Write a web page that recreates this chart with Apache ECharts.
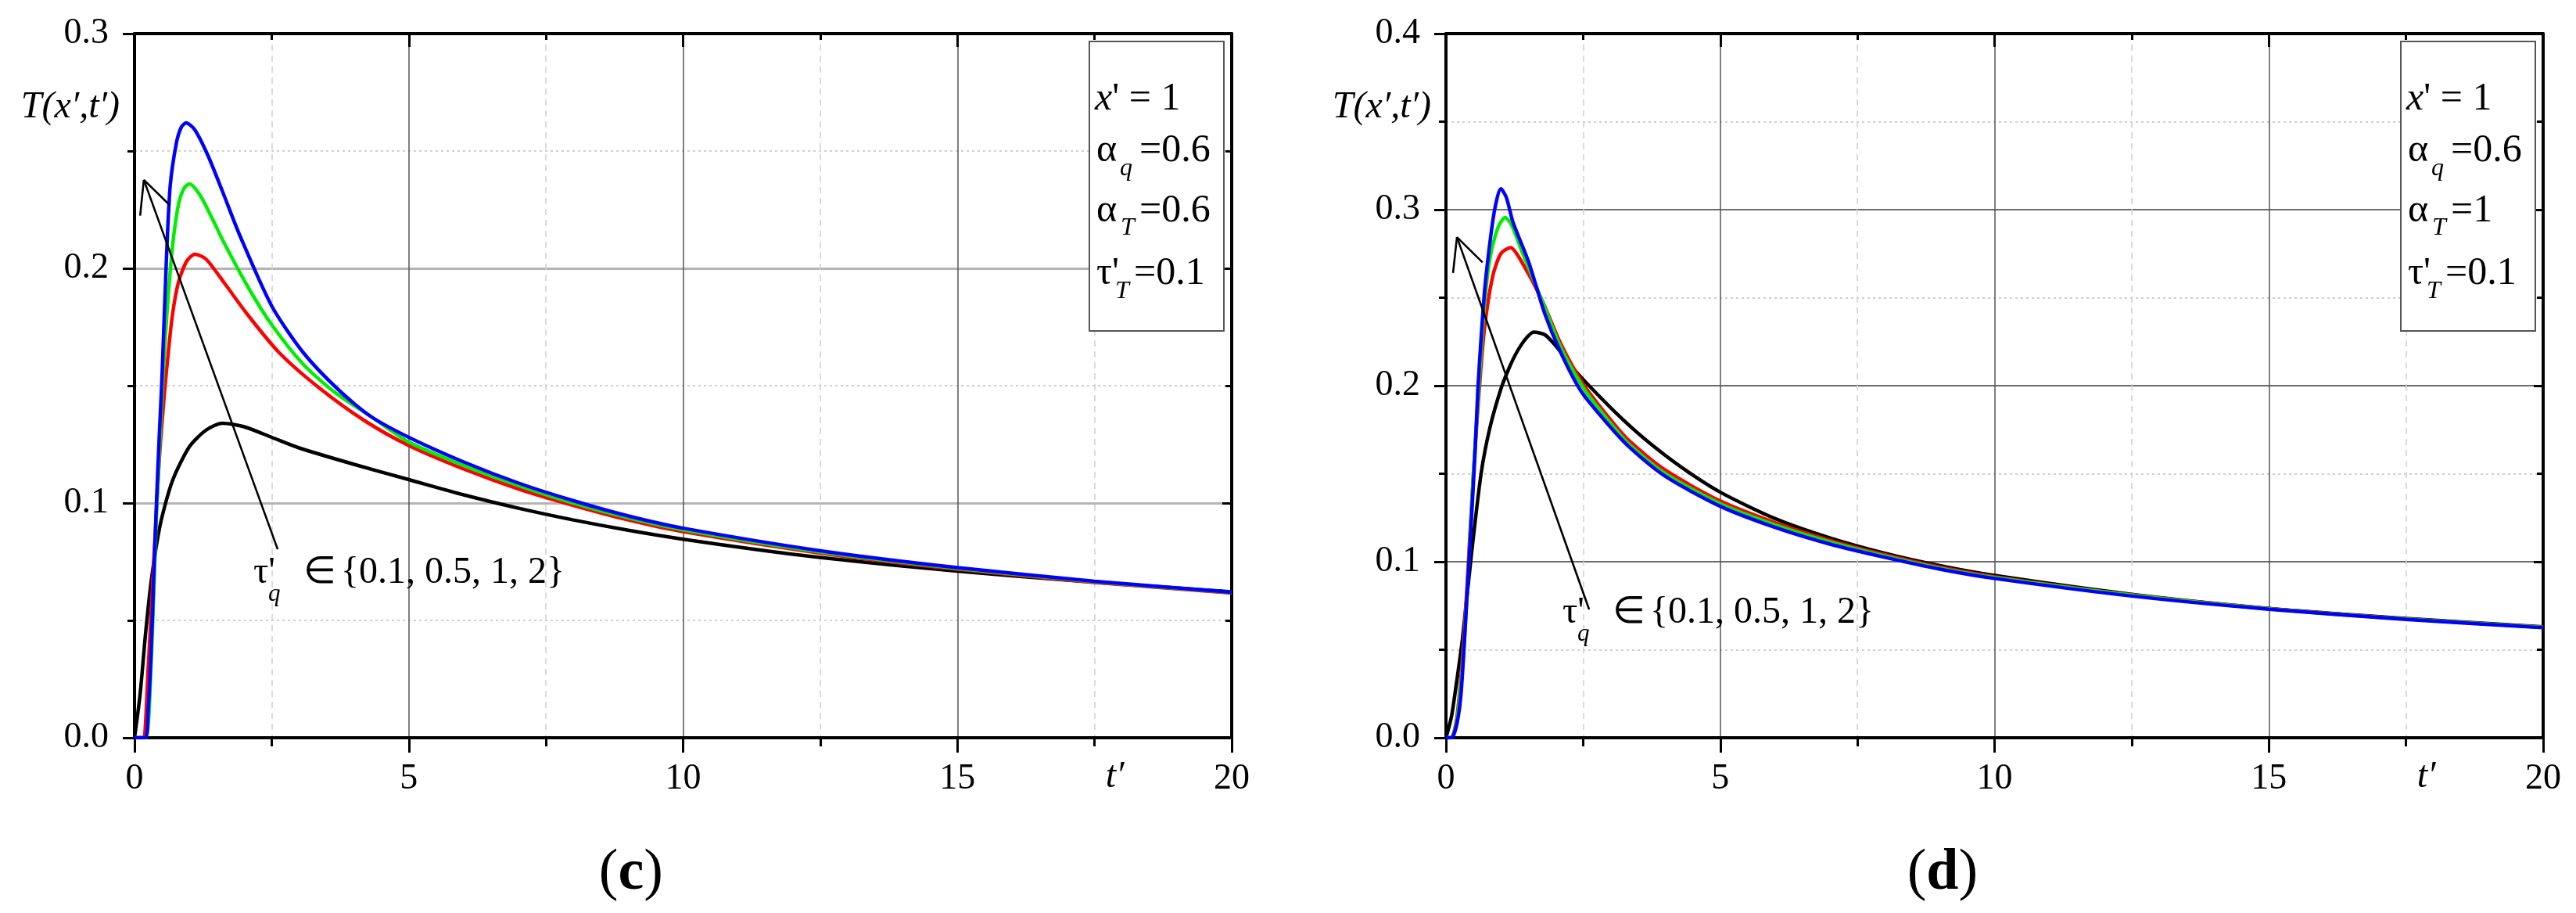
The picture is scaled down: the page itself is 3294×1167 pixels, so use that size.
<!DOCTYPE html>
<html>
<head>
<meta charset="utf-8">
<title>T(x',t') — panels (c) and (d)</title>
<script src="https://cdn.jsdelivr.net/npm/echarts@6/dist/echarts.min.js"></script>
<style>
html, body { margin: 0; padding: 0; background: #fff; }
#main { width: 3294px; height: 1167px; }
</style>
</head>
<body>
<div id="main"></div>
<script>
// ---- data: [t', T] pairs ----
// panel (c): x' = 1, alpha_q = 0.6, alpha_T = 0.6, tau'_T = 0.1
const cBlack = [[0, 0], [0.1, 0.018], [0.2, 0.044], [0.3, 0.066], [0.4, 0.082], [0.5, 0.094], [0.7, 0.11], [1.0, 0.124], [1.3, 0.131], [1.6, 0.134], [2.0, 0.1325], [2.5, 0.128], [3, 0.1235], [4, 0.1165], [5, 0.11], [6, 0.1035], [7, 0.0978], [8, 0.0928], [9, 0.0884], [10, 0.0846], [12, 0.0782], [14, 0.0732], [16, 0.069], [18, 0.0654], [20, 0.0622]];
const cRed = [[0, 0], [0.15, 0], [0.25, 0.03], [0.35, 0.075], [0.45, 0.118], [0.55, 0.148], [0.62, 0.165], [0.69, 0.18], [0.8, 0.194], [0.95, 0.203], [1.1, 0.206], [1.3, 0.204], [1.63, 0.194], [2.07, 0.18], [2.64, 0.164], [3.37, 0.149], [4.2, 0.135], [5, 0.1245], [6, 0.1145], [7, 0.106], [8, 0.099], [9, 0.0928], [10, 0.0878], [12.5, 0.0787], [15, 0.0718], [17.5, 0.0662], [20, 0.0617]];
const cGreen = [[0, 0], [0.2, 0], [0.3, 0.03], [0.4, 0.095], [0.5, 0.145], [0.56, 0.17], [0.62, 0.19], [0.7, 0.211], [0.8, 0.227], [0.9, 0.234], [1.0, 0.236], [1.2, 0.231], [1.4, 0.222], [1.63, 0.211], [2.07, 0.192], [2.5, 0.176], [3.08, 0.159], [3.66, 0.147], [4.3, 0.137], [5, 0.126], [6, 0.116], [7, 0.1075], [8, 0.1], [9, 0.0937], [10, 0.0886], [12.5, 0.0792], [15, 0.0722], [17.5, 0.0665], [20, 0.0619]];
const cBlue = [[0, 0], [0.2, 0], [0.25, 0.012], [0.3, 0.035], [0.35, 0.068], [0.4, 0.1], [0.45, 0.128], [0.5, 0.153], [0.58, 0.203], [0.65, 0.235], [0.76, 0.253], [0.85, 0.26], [0.94, 0.262], [1.1, 0.259], [1.34, 0.248], [1.6, 0.233], [1.92, 0.214], [2.5, 0.184], [3.08, 0.164], [3.73, 0.148], [4.3, 0.137], [5, 0.128], [6, 0.1175], [7, 0.1085], [8, 0.101], [9, 0.0945], [10, 0.0893], [12.5, 0.0797], [15, 0.0725], [17.5, 0.0667], [20, 0.062]];

// panel (d): x' = 1, alpha_q = 0.6, alpha_T = 1, tau'_T = 0.1
const dBlack = [[0, 0], [0.1, 0.012], [0.2, 0.033], [0.3, 0.056], [0.46, 0.103], [0.64, 0.15], [0.8, 0.176], [1.0, 0.198], [1.15, 0.21], [1.29, 0.219], [1.45, 0.2265], [1.6, 0.2304], [1.8, 0.229], [2.02, 0.222], [2.3, 0.2105], [2.67, 0.198], [3.2, 0.1815], [3.69, 0.168], [4.3, 0.1535], [5, 0.1395], [6, 0.1245], [7, 0.1135], [8, 0.1048], [9, 0.0978], [10, 0.0922], [12.5, 0.0815], [15, 0.0735], [17.5, 0.0678], [20, 0.063]];
const dRed = [[0, 0], [0.1, 0], [0.2, 0.012], [0.3, 0.045], [0.4, 0.095], [0.5, 0.15], [0.6, 0.195], [0.7, 0.232], [0.85, 0.262], [1.0, 0.275], [1.18, 0.2785], [1.35, 0.272], [1.73, 0.25], [2.09, 0.224], [2.5, 0.201], [2.9, 0.1845], [3.33, 0.169], [4, 0.152], [5, 0.1345], [6, 0.1222], [7, 0.1122], [8, 0.104], [9, 0.097], [10, 0.0915], [12.5, 0.0812], [15, 0.0733], [17.5, 0.0675], [20, 0.0628]];
const dGreen = [[0, 0], [0.1, 0], [0.2, 0.01], [0.3, 0.04], [0.4, 0.09], [0.5, 0.15], [0.6, 0.2], [0.7, 0.245], [0.8, 0.272], [0.95, 0.29], [1.08, 0.2956], [1.2, 0.291], [1.4, 0.275], [1.73, 0.25], [2.09, 0.222], [2.5, 0.199], [2.9, 0.1825], [3.33, 0.167], [4, 0.15], [5, 0.133], [6, 0.121], [7, 0.1113], [8, 0.1033], [9, 0.0964], [10, 0.091], [12.5, 0.081], [15, 0.0732], [17.5, 0.0674], [20, 0.0627]];
const dBlue = [[0, 0], [0.1, 0], [0.2, 0.008], [0.28, 0.027], [0.39, 0.084], [0.46, 0.122], [0.53, 0.162], [0.58, 0.197], [0.64, 0.227], [0.71, 0.256], [0.82, 0.286], [0.9, 0.302], [1.0, 0.3119], [1.1, 0.307], [1.22, 0.293], [1.51, 0.27], [1.8, 0.241], [2.09, 0.219], [2.46, 0.197], [2.9, 0.18], [3.33, 0.1655], [4, 0.1485], [5, 0.1315], [6, 0.1195], [7, 0.11], [8, 0.1025], [9, 0.0958], [10, 0.0905], [12.5, 0.0805], [15, 0.073], [17.5, 0.0672], [20, 0.0625]];

const yMaxC = 0.3;
const yMaxD = 0.4;
const xTicks = [0, 20, 5];           // min, max, interval
const alphaTLabels = ['0.6', '1'];   // alpha_T in (c), (d)
const panelLetters = ['c', 'd'];
const tauSet = '{0.1, 0.5, 1, 2}';
// arrow from label up to the peaks: [tail, tip] in data units
const arrowC = [[2.61, 0.0803], [0.17, 0.2377]];
const arrowD = [[2.61, 0.0729], [0.2, 0.2844]];
const noteC = [2.167, 0.0703];
const noteD = [2.124, 0.0711];
const tNameAt = 17.87;

const FONT = 'Liberation Serif';
const GRID_TOP = 43;
const GRID_H = 900;
const GRID_W = 1403;
const GRID_LEFT = [172, 1849];

const chart = echarts.init(document.getElementById('main'));

function xAxes(g) {
    const base = {
        type: 'value',
        gridIndex: g,
        min: xTicks[0],
        max: xTicks[1],
        interval: xTicks[2]
    };
    return [
        {
            ...base,
            position: 'bottom',
            axisLine: { show: true, onZero: false, lineStyle: { color: '#000', width: 4 } },
            axisTick: { show: true, inside: false, length: 19, lineStyle: { color: '#000', width: 3 } },
            minorTick: { show: true, splitNumber: 2, length: 11, lineStyle: { color: '#000', width: 3 } },
            axisLabel: { fontFamily: FONT, fontSize: 46, color: '#000', margin: 30 },
            splitLine: { show: true, lineStyle: { color: '#555', width: 1.5 } },
            minorSplitLine: { show: true, lineStyle: { color: '#cfcfcf', width: 1.5, type: [8, 6] } }
        },
        {
            ...base,
            position: 'top',
            axisLine: { show: true, onZero: false, lineStyle: { color: '#000', width: 4 } },
            axisTick: { show: true, inside: true, length: 17, lineStyle: { color: '#000', width: 3 } },
            minorTick: { show: true, splitNumber: 2, length: 8, lineStyle: { color: '#000', width: 3 } },
            axisLabel: { show: false },
            splitLine: { show: false }
        }
    ];
}

function yAxes(g, yMax, darkGrid) {
    const base = {
        type: 'value',
        gridIndex: g,
        min: 0,
        max: yMax,
        interval: 0.1
    };
    return [
        {
            ...base,
            position: 'left',
            axisLine: { show: true, onZero: false, lineStyle: { color: '#000', width: 4 } },
            axisTick: { show: true, inside: false, length: 15, lineStyle: { color: '#000', width: 3 } },
            minorTick: { show: true, splitNumber: 2, length: 9, lineStyle: { color: '#000', width: 3 } },
            axisLabel: {
                fontFamily: FONT, fontSize: 46, color: '#000', margin: 33,
                formatter: v => v.toFixed(1)
            },
            splitLine: {
                show: true,
                lineStyle: darkGrid ? { color: '#3a3a3a', width: 1.5 } : { color: '#b4b4b4', width: 3 }
            },
            minorSplitLine: { show: true, lineStyle: { color: '#cfcfcf', width: 2, type: [3, 4] } }
        },
        {
            ...base,
            position: 'right',
            axisLine: { show: true, onZero: false, lineStyle: { color: '#000', width: 4 } },
            axisTick: { show: true, inside: true, length: 12, lineStyle: { color: '#000', width: 3 } },
            minorTick: { show: true, splitNumber: 2, length: 8, lineStyle: { color: '#000', width: 3 } },
            axisLabel: { show: false },
            splitLine: { show: false }
        }
    ];
}

function curve(name, data, color, g, z) {
    return {
        name: name,
        type: 'line',
        xAxisIndex: g * 2,
        yAxisIndex: g * 2,
        data: data,
        showSymbol: false,
        smooth: 0.25,
        lineStyle: { color: color, width: 4.5 },
        z: z,
        silent: true
    };
}

chart.setOption({
    backgroundColor: '#fff',
    animation: false,
    grid: GRID_LEFT.map(left => ({
        left: left, top: GRID_TOP, width: GRID_W, height: GRID_H, containLabel: false
    })),
    xAxis: [...xAxes(0), ...xAxes(1)],
    yAxis: [...yAxes(0, yMaxC, false), ...yAxes(1, yMaxD, true)],
    series: [
        curve('0.1', cBlack, '#000000', 0, 2),
        curve('0.5', cRed, '#ff0000', 0, 3),
        curve('1', cGreen, '#00ee00', 0, 4),
        curve('2', cBlue, '#0000ff', 0, 5),
        curve('0.1', dBlack, '#000000', 1, 2),
        curve('0.5', dRed, '#ff0000', 1, 3),
        curve('1', dGreen, '#00ee00', 1, 4),
        curve('2', dBlue, '#0000ff', 1, 5)
    ]
});

// ---- annotations ----
function toPx(g, p) {
    return chart.convertToPixel({ seriesIndex: g * 4 }, p);
}

function txt(x, y, text, size, extra) {
    return {
        type: 'text',
        x: x,
        y: y,
        z: 20,
        style: Object.assign({
            text: text,
            fontFamily: FONT,
            fontSize: size,
            fill: '#000',
            align: 'left',
            verticalAlign: 'middle'
        }, extra || {})
    };
}

function arrow(g, seg) {
    const a = toPx(g, seg[0]);
    const b = toPx(g, seg[1]);
    const ang = Math.atan2(a[1] - b[1], a[0] - b[0]);
    const len = 46;
    const spread = 0.45;
    const line = (x1, y1, x2, y2) => ({
        type: 'line', z: 20,
        shape: { x1: x1, y1: y1, x2: x2, y2: y2 },
        style: { stroke: '#000', lineWidth: 2.6 }
    });
    return [
        line(a[0], a[1], b[0], b[1]),
        line(b[0], b[1], b[0] + len * Math.cos(ang + spread), b[1] + len * Math.sin(ang + spread)),
        line(b[0], b[1], b[0] + len * Math.cos(ang - spread), b[1] + len * Math.sin(ang - spread))
    ];
}

function note(g, at) {
    const p = toPx(g, at);
    return [
        txt(p[0], p[1], "τ'", 48),
        txt(p[0] + 19, p[1] + 28, 'q', 31, { fontStyle: 'italic' }),
        txt(p[0] + 64, p[1], '∈', 48),
        txt(p[0] + 112, p[1], tauSet, 48)
    ];
}

function paramBox(g) {
    const right = GRID_LEFT[g] + GRID_W - 10;
    const bx = right - 172;
    const by = GRID_TOP + 10;
    const sub = { fontStyle: 'italic' };
    return [
        {
            type: 'rect', z: 15,
            shape: { x: bx, y: by, width: 172, height: 370 },
            style: { fill: '#fff', stroke: '#555', lineWidth: 2 }
        },
        txt(bx + 7, by + 74, "{i|x}' = 1", 50, {
            rich: { i: { fontStyle: 'italic', fontFamily: FONT, fontSize: 50 } }
        }),
        txt(bx + 9, by + 140, 'α', 50),
        txt(bx + 39, by + 163, 'q', 32, sub),
        txt(bx + 64, by + 140, '=0.6', 50),
        txt(bx + 9, by + 217, 'α', 50),
        txt(bx + 40, by + 239, 'T', 32, sub),
        txt(bx + 64, by + 217, '=' + alphaTLabels[g], 50),
        txt(bx + 9, by + 297, "τ'", 50),
        txt(bx + 33, by + 320, 'T', 32, sub),
        txt(bx + 57, by + 297, '=0.1', 50)
    ];
}

function axisNames(g) {
    const left = GRID_LEFT[g];
    const tn = toPx(g, [tNameAt, 0]);
    return [
        txt(left - 19, GRID_TOP + 94, 'T(x′,t′)', 48, { align: 'right', fontStyle: 'italic' }),
        txt(tn[0], GRID_TOP + GRID_H + 50, 't′', 48, { align: 'center', fontStyle: 'italic' }),
        txt(left + GRID_W * 0.4525, 1117, '{n|(}{b|' + panelLetters[g] + '}{n|)}', 74, {
            align: 'center',
            rich: {
                n: { fontFamily: FONT, fontSize: 74 },
                b: { fontFamily: FONT, fontSize: 74, fontWeight: 'bold' }
            }
        })
    ];
}

chart.setOption({
    graphic: [
        ...arrow(0, arrowC), ...note(0, noteC), ...paramBox(0), ...axisNames(0),
        ...arrow(1, arrowD), ...note(1, noteD), ...paramBox(1), ...axisNames(1)
    ]
});
</script>
</body>
</html>
